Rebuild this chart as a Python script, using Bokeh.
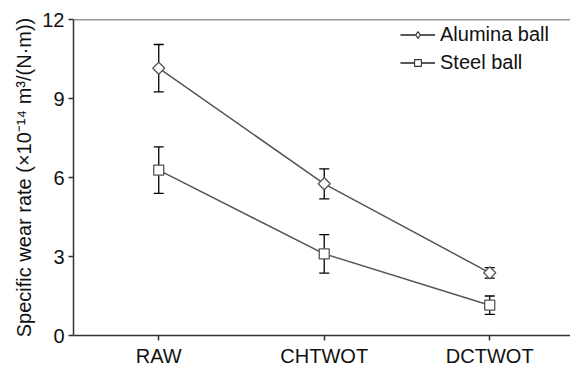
import math
from bokeh.plotting import figure
from bokeh.models import ColumnDataSource, Whisker, Span, Legend, LegendItem, FixedTicker
from bokeh.embed import file_html
from bokeh.resources import INLINE

categories = ["RAW", "CHTWOT", "DCTWOT"]
alumina = [10.15, 5.76, 2.38]
alumina_err = [0.9, 0.57, 0.2]
steel = [6.28, 3.1, 1.15]
steel_err = [0.88, 0.73, 0.35]
y_ticks = [0, 3, 6, 9, 12]

xs = list(range(len(categories)))
FONT = "Liberation Sans"
LINE = "#555555"
TXT = "#111111"

p = figure(width=570, height=369, output_backend="svg", toolbar_location=None,
           x_range=(-0.515, 2.488), y_range=(0, 12),
           min_border_left=73, min_border_right=0, min_border_top=19, min_border_bottom=32)
p.grid.visible = False
p.outline_line_color = None
p.background_fill_color = "white"
p.border_fill_color = "white"

p.add_layout(Span(location=12, dimension="width", line_color="#333333", line_width=1.5))

def series(vals, errs, marker, size, angle, lmarker):
    src = ColumnDataSource(dict(x=xs, y=vals,
                                lo=[v - e for v, e in zip(vals, errs)],
                                hi=[v + e for v, e in zip(vals, errs)]))
    w = Whisker(source=src, base="x", lower="lo", upper="hi", line_color="black", line_width=1.3)
    for h in (w.upper_head, w.lower_head):
        h.size = 10
        h.line_color = "black"
        h.line_width = 1.3
    p.add_layout(w)
    p.line("x", "y", source=src, line_color=LINE, line_width=1.5)
    p.scatter("x", "y", source=src, marker=marker, size=size, angle=angle, line_color=LINE,
              fill_color="white", line_width=1.3)
    # legend-only glyphs (a point far outside the visible range)
    off = ColumnDataSource(dict(x=[-100], y=[-100]))
    l = p.line("x", "y", source=off, line_color="#222222", line_width=1.3)
    s = p.scatter("x", "y", source=off, marker=lmarker, size=7,
                  line_color="#333333", fill_color="white", line_width=1.1)
    return [l, s]

ra = series(alumina, alumina_err, "square", 8.5, math.pi / 4, "diamond")
rs = series(steel, steel_err, "square", 10, 0, "square")

legend = Legend(items=[LegendItem(label="Alumina ball", renderers=ra),
                       LegendItem(label="Steel ball", renderers=rs)],
                location=(327, 261), border_line_color=None, background_fill_alpha=0,
                padding=0, margin=0, spacing=4, label_height=24, glyph_height=17,
                glyph_width=35, label_standoff=5,
                label_text_font=FONT, label_text_font_size="20px", label_text_color=TXT)
p.add_layout(legend, "center")

p.xaxis.ticker = FixedTicker(ticks=xs)
p.xaxis.major_label_overrides = {i: c for i, c in enumerate(categories)}
p.yaxis.ticker = FixedTicker(ticks=y_ticks)
for ax in (p.xaxis, p.yaxis):
    ax.axis_line_color = "#333333"
    ax.axis_line_width = 1.5
    ax.major_tick_line_color = "#333333"
    ax.major_tick_line_width = 1.5
    ax.major_tick_out = 5
    ax.major_tick_in = 0
    ax.minor_tick_line_color = None
    ax.major_label_text_font = FONT
    ax.major_label_text_font_size = "20px"
    ax.major_label_text_color = TXT
p.xaxis.major_label_standoff = 4
p.yaxis.major_label_standoff = 4
p.yaxis.axis_label = "Specific wear rate (×10⁻¹⁴ m³/(N·m))"
p.yaxis.axis_label_text_font = FONT
p.yaxis.axis_label_text_font_size = "20px"
p.yaxis.axis_label_text_font_style = "normal"
p.yaxis.axis_label_text_color = TXT
p.yaxis.axis_label_standoff = 4

open("out.html", "w").write(file_html(p, INLINE))
